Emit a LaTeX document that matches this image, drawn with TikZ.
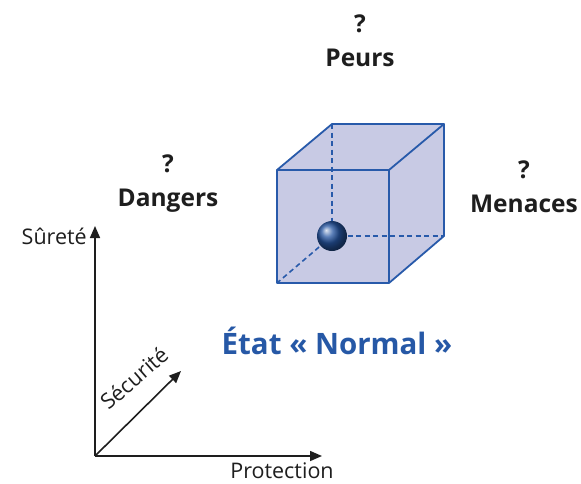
\documentclass[tikz,border=0pt]{standalone}
\usepackage{fontspec}
\setmainfont{Open Sans}
\usetikzlibrary{arrows.meta}
\definecolor{cubeblue}{RGB}{40,90,170}
\definecolor{cubefill}{RGB}{200,202,228}
\definecolor{txtdark}{RGB}{30,30,30}
\definecolor{etatblue}{RGB}{38,88,166}
\tikzset{
  edge/.style={draw=cubeblue, line width=1.8pt, line join=round},
  hidden/.style={draw=cubeblue, line width=1.6pt, dash pattern=on 5pt off 3.5pt},
  axis/.style={draw=txtdark, line width=1.6pt, -{Triangle[length=12pt,width=10pt]}},
  lbl/.style={text=txtdark, font=\fontsize{24.5}{34}\selectfont\bfseries, align=center, inner sep=0pt},
  axlbl/.style={text=txtdark, font=\fontsize{21.5}{24}\selectfont, inner sep=0pt},
}
\begin{document}
\begin{tikzpicture}[x=1pt,y=-1pt]
\useasboundingbox (0,0) rectangle (581,483);
% cube corners
\coordinate (f1) at (277,170);
\coordinate (f2) at (389,170);
\coordinate (f3) at (389,283);
\coordinate (f4) at (277,283);
\coordinate (b1) at (332,124);
\coordinate (b2) at (444,124);
\coordinate (b3) at (444,236);
\coordinate (b4) at (332,236);
\fill[cubefill] (f1) -- (b1) -- (b2) -- (b3) -- (f3) -- (f4) -- cycle;
\draw[hidden] (b1) -- (b4) -- (b3);
\draw[hidden] (b4) -- (f4);
\shade[ball color=cubeblue!95!black] (b4) circle (15);
\draw[edge] (f1) rectangle (f3);
\draw[edge] (f1) -- (b1) -- (b2) -- (f2);
\draw[edge] (b2) -- (b3) -- (f3);
% labels
\node[lbl] (peurs) at (360,41) {?\\Peurs};
\node[lbl] (dangers) at (168,184) {?\\Dangers};
\node[lbl] (menaces) at (524,187) {?\\Menaces};
\node[text=etatblue, font=\fontsize{29.5}{34}\selectfont\bfseries, inner sep=0pt] (etat) at (337,341) {État « Normal »};
% axes
\coordinate (o) at (95,456);
\coordinate (ytip) at (95,226);
\coordinate (xtip) at (322,456);
\coordinate (ztip) at (181,371);
\draw[axis] (o) -- (ytip);
\draw[axis] (o) -- (xtip);
\draw[axis] (o) -- (ztip);
\node[axlbl, anchor=east] (surete) at (87,236) {Sûreté};
\node[axlbl] (protection) at (282,471) {Protection};
\node[axlbl, rotate=41] (securite) at (134,378) {Sécurité};
\end{tikzpicture}
\end{document}
